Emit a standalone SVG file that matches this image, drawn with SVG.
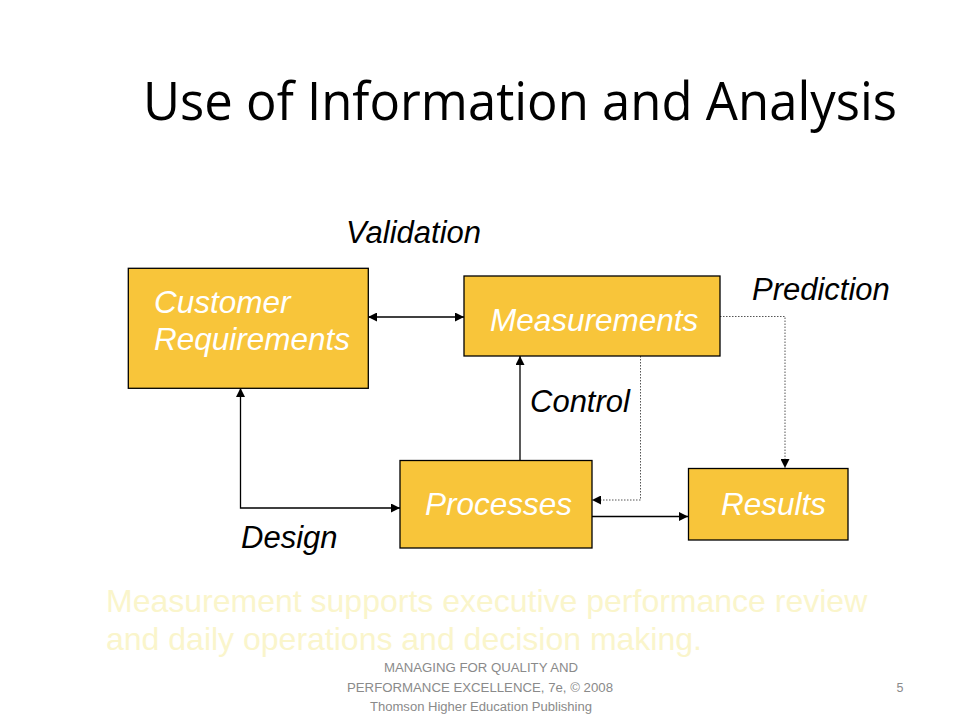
<svg xmlns="http://www.w3.org/2000/svg" width="960" height="720" viewBox="0 0 960 720">
<defs>
<style>
.box{fill:#F8C53A;stroke:#000;stroke-width:1.3}
.bt{font-family:"Liberation Sans",Arial,sans-serif;font-style:italic;font-size:31.5px;fill:#fff}
.lbl{font-family:"Liberation Sans",Arial,sans-serif;font-style:italic;font-size:31px;fill:#000}
.ln{fill:none;stroke:#000;stroke-width:1.3}
.dot{fill:none;stroke:#555;stroke-width:1;stroke-dasharray:1.5,1.5}
.foot{font-family:"Liberation Sans",Arial,sans-serif;font-size:12.5px;fill:#8a8a8a}
</style>
<marker id="ah" viewBox="0 0 10 10" refX="10" refY="5" markerWidth="9" markerHeight="9" markerUnits="userSpaceOnUse" orient="auto-start-reverse">
<path d="M0,0 L10,5 L0,10 z" fill="#000"/>
</marker>
</defs>
<rect width="960" height="720" fill="#fff"/>
<text x="143" y="120" font-family="'Open Sans',Lato,sans-serif" font-size="53" fill="#000" textLength="754" lengthAdjust="spacingAndGlyphs">Use of Information and Analysis</text>

<g id="connectors">
<path class="ln" d="M368,317 L464,317" marker-start="url(#ah)" marker-end="url(#ah)"/>
<path class="ln" d="M520,460 L520,356" marker-end="url(#ah)"/>
<path class="ln" d="M400,508 L240.5,508 L240.5,388" marker-start="url(#ah)" marker-end="url(#ah)"/>
<path class="ln" d="M592,516.5 L688,516.5" marker-end="url(#ah)"/>
<path class="dot" d="M640.5,356 L640.5,500 L592,500" marker-end="url(#ah)"/>
<path class="dot" d="M720,316.5 L785,316.5 L785,468" marker-end="url(#ah)"/>
</g>

<g id="customer">
<rect class="box" x="128.3" y="268.3" width="240" height="120"/>
<text class="bt" x="154" y="313">Customer</text>
<text class="bt" x="154" y="350">Requirements</text>
</g>
<g id="measurements">
<rect class="box" x="464" y="276" width="256" height="80"/>
<text class="bt" x="490" y="331">Measurements</text>
</g>
<g id="processes">
<rect class="box" x="400" y="460.5" width="192" height="87.5"/>
<text class="bt" x="425" y="515">Processes</text>
</g>
<g id="results">
<rect class="box" x="688.5" y="468.5" width="159.5" height="71.5"/>
<text class="bt" x="721" y="515">Results</text>
</g>

<g id="labels">
<text class="lbl" x="346" y="243">Validation</text>
<text class="lbl" x="752" y="300">Prediction</text>
<text class="lbl" x="530" y="412">Control</text>
<text class="lbl" x="241" y="548">Design</text>
</g>

<g id="note" font-family="'Liberation Sans',Arial,sans-serif" font-size="32" fill="#FAF5CB">
<text x="106" y="612">Measurement supports executive performance review</text>
<text x="106" y="650">and daily operations and decision making.</text>
</g>

<g id="footer">
<text class="foot" x="384" y="672" textLength="194" lengthAdjust="spacingAndGlyphs">MANAGING FOR QUALITY AND</text>
<text class="foot" x="347" y="692" textLength="266" lengthAdjust="spacingAndGlyphs">PERFORMANCE EXCELLENCE, 7e, © 2008</text>
<text class="foot" x="370" y="711" textLength="222" lengthAdjust="spacingAndGlyphs">Thomson Higher Education Publishing</text>
<text class="foot" x="900" y="692" text-anchor="middle">5</text>
</g>
</svg>
